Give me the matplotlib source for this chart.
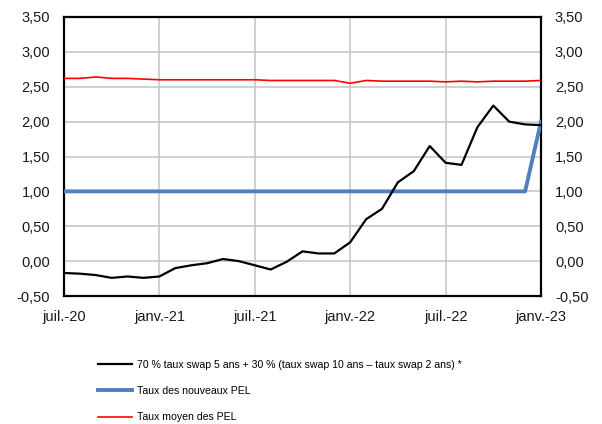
import matplotlib
matplotlib.use("Agg")
import matplotlib.pyplot as plt
from matplotlib.ticker import FuncFormatter

plt.rcParams['font.family'] = ['Liberation Sans', 'DejaVu Sans']

######################### DATA #########################

# monthly points, juil.-20 .. janv.-23
months = ["juil.-20", "août-20", "sept.-20", "oct.-20", "nov.-20", "déc.-20",
          "janv.-21", "févr.-21", "mars-21", "avr.-21", "mai-21", "juin-21",
          "juil.-21", "août-21", "sept.-21", "oct.-21", "nov.-21", "déc.-21",
          "janv.-22", "févr.-22", "mars-22", "avr.-22", "mai-22", "juin-22",
          "juil.-22", "août-22", "sept.-22", "oct.-22", "nov.-22", "déc.-22",
          "janv.-23"]

swap_formula = [-0.17, -0.18, -0.20, -0.24, -0.22, -0.24, -0.22, -0.10, -0.06, -0.03,
                0.03, 0.00, -0.06, -0.12, -0.01, 0.14, 0.11, 0.11, 0.27, 0.60,
                0.75, 1.13, 1.29, 1.65, 1.41, 1.38, 1.92, 2.23, 2.00, 1.96,
                1.95]

taux_nouveaux_pel = [1.00] * 30 + [2.00]

taux_moyen_pel = [2.62, 2.62, 2.64, 2.62, 2.62, 2.61, 2.60, 2.60, 2.60, 2.60,
                  2.60, 2.60, 2.60, 2.59, 2.59, 2.59, 2.59, 2.59, 2.55, 2.59,
                  2.58, 2.58, 2.58, 2.58, 2.57, 2.58, 2.57, 2.58, 2.58, 2.58,
                  2.59]

labels = ["70 % taux swap 5 ans + 30 % (taux swap 10 ans – taux swap 2 ans) *",
          "Taux des nouveaux PEL",
          "Taux moyen des PEL"]

tick_months = ["juil.-20", "janv.-21", "juil.-21", "janv.-22", "juil.-22", "janv.-23"]

######################### PLOT #########################

x = list(range(len(months)))

fig = plt.figure(figsize=(6.02, 4.24), dpi=100)
ax = fig.add_axes([64/602, 1 - 296/424, (541 - 64)/602, (296 - 17)/424])

l1, = ax.plot(x, swap_formula, color="black", lw=1.6, zorder=4)
l2, = ax.plot(x, taux_nouveaux_pel, color="#4f81bd", lw=2.8, zorder=3)
l3, = ax.plot(x, taux_moyen_pel, color="#ff0000", lw=1.2, zorder=3)

ax.set_xlim(0, len(months) - 1)
ax.set_ylim(-0.5, 3.5)
ax.set_yticks([-0.5 + 0.5 * k for k in range(9)])
ax.set_xticks([months.index(m) for m in tick_months])
ax.set_xticklabels(tick_months)

comma = FuncFormatter(lambda v, p: ("%.2f" % v).replace(".", ","))
ax.yaxis.set_major_formatter(comma)

ax.grid(True, color="#c8c8c8", lw=1.2)
ax.set_axisbelow(True)
for s in ax.spines.values():
    s.set_color("black")
    s.set_linewidth(1.6)

ax.tick_params(axis="both", length=0, labelsize=10.5, colors="#1a1a1a")
ax.tick_params(axis="x", pad=10)
ax.tick_params(axis="y", pad=10, labelright=True, right=False)

fig.legend([l1, l2, l3], labels, loc="upper left", bbox_to_anchor=(88/602, 1 - 350/424),
           frameon=False, fontsize=7.6, handlelength=3.3, handletextpad=0.4,
           labelspacing=1.55)

fig.savefig("out.png", dpi=100)
